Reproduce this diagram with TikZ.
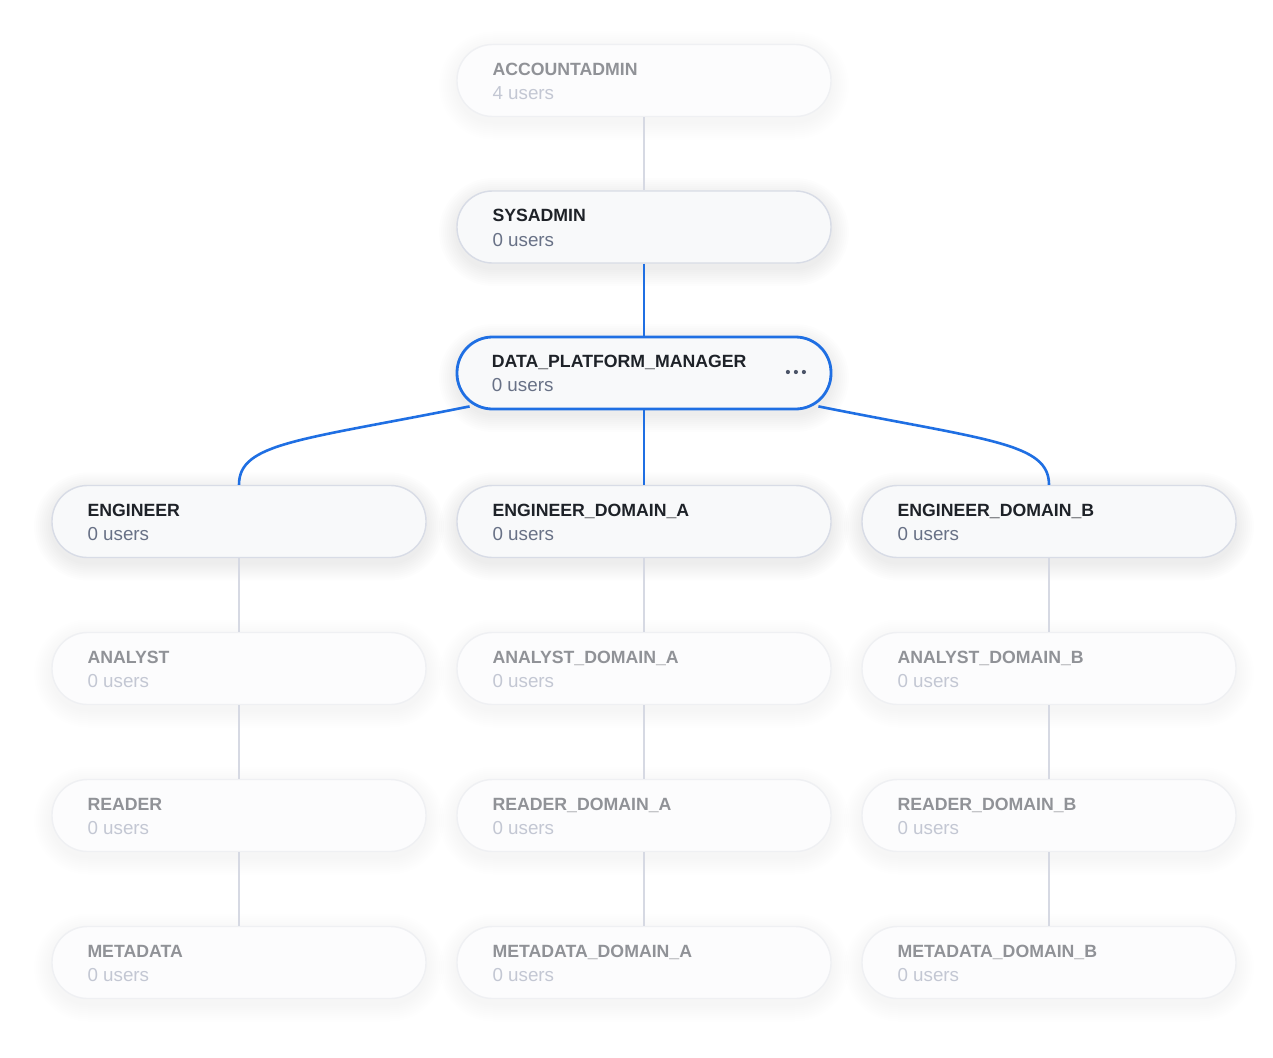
\documentclass[tikz,border=0pt]{standalone}
\usepackage{fontspec}
\setmainfont{Liberation Sans}
\usetikzlibrary{calc}
\definecolor{actborder}{HTML}{D8DCE6}
\definecolor{actfill}{HTML}{F8F9FA}
\definecolor{fadeborder}{HTML}{EFF0F3}
\definecolor{fadefill}{HTML}{FCFCFD}
\definecolor{selblue}{HTML}{1F6FE3}
\definecolor{actname}{HTML}{1E2228}
\definecolor{actusers}{HTML}{687186}
\definecolor{fadename}{HTML}{909297}
\definecolor{fadeusers}{HTML}{C3C7D3}
\definecolor{linegray}{HTML}{D6D9E3}
\definecolor{dotcol}{HTML}{4B5468}
\definecolor{shadowcol}{HTML}{2A3550}
\tikzset{
  rolebox/.style={draw, rounded corners=35.5pt, minimum width=374pt, minimum height=72pt, inner sep=0pt, line width=1.4pt},
  actbox/.style={rolebox, draw=actborder, fill=actfill},
  fadebox/.style={rolebox, draw=fadeborder, fill=fadefill},
  selbox/.style={rolebox, draw=selblue, fill=actfill, line width=2.8pt},
  actnamefont/.style={font=\fontsize{17.7}{19}\selectfont\bfseries, text=actname},
  actusersfont/.style={font=\fontsize{18.8}{20}\selectfont, text=actusers},
  fadenamefont/.style={font=\fontsize{17.7}{19}\selectfont\bfseries, text=fadename},
  fadeusersfont/.style={font=\fontsize{18.8}{20}\selectfont, text=fadeusers},
  grayline/.style={draw=linegray, line width=2.4pt},
  blueline/.style={draw=selblue, line width=2.6pt},
}
% #1 name, #2 x, #3 y, #4 box style, #5 text kind (act/fade), #6 title, #7 users, #8 shadow opacity
\newcommand{\rolenode}[8]{%
  \foreach \s in {2,4,...,18}{%
    \fill[shadowcol, opacity=#8, rounded corners=36pt+\s pt]
      (#2-187-\s, #3-36-\s+5) rectangle (#2+187+\s, #3+36+\s+5);
  }
  \node[#4] (#1) at (#2,#3) {};
  \node[anchor=base west, inner sep=0pt, #5namefont] (#1-name) at ($(#1.north west)+(36,31.5)$) {#6};
  \node[anchor=base west, inner sep=0pt, #5usersfont] (#1-users) at ($(#1.north west)+(36,56)$) {#7};
}
\begin{document}
\begin{tikzpicture}[x=1pt, y=-1pt]
\useasboundingbox (0,0) rectangle (1273,1057);
\fill[white] (0,0) rectangle (1273,1057);

\rolenode{acc}{644}{80.5}{fadebox}{fade}{ACCOUNTADMIN}{4 users}{0.0035}
\rolenode{sys}{644}{227}{actbox}{act}{SYSADMIN}{0 users}{0.008}
\rolenode{dpm}{644}{373}{selbox}{act}{DATA\_PLATFORM\_MANAGER}{0 users}{0.008}

\rolenode{eng}{239}{521.5}{actbox}{act}{ENGINEER}{0 users}{0.008}
\rolenode{engA}{644}{521.5}{actbox}{act}{ENGINEER\_DOMAIN\_A}{0 users}{0.008}
\rolenode{engB}{1049}{521.5}{actbox}{act}{ENGINEER\_DOMAIN\_B}{0 users}{0.008}

\rolenode{ana}{239}{668.5}{fadebox}{fade}{ANALYST}{0 users}{0.0035}
\rolenode{anaA}{644}{668.5}{fadebox}{fade}{ANALYST\_DOMAIN\_A}{0 users}{0.0035}
\rolenode{anaB}{1049}{668.5}{fadebox}{fade}{ANALYST\_DOMAIN\_B}{0 users}{0.0035}

\rolenode{rea}{239}{815.5}{fadebox}{fade}{READER}{0 users}{0.0035}
\rolenode{reaA}{644}{815.5}{fadebox}{fade}{READER\_DOMAIN\_A}{0 users}{0.0035}
\rolenode{reaB}{1049}{815.5}{fadebox}{fade}{READER\_DOMAIN\_B}{0 users}{0.0035}

\rolenode{met}{239}{962.5}{fadebox}{fade}{METADATA}{0 users}{0.0035}
\rolenode{metA}{644}{962.5}{fadebox}{fade}{METADATA\_DOMAIN\_A}{0 users}{0.0035}
\rolenode{metB}{1049}{962.5}{fadebox}{fade}{METADATA\_DOMAIN\_B}{0 users}{0.0035}

% connectors
\draw[grayline] (acc) -- (sys);
\draw[blueline] (sys) -- (dpm);
\draw[blueline] (dpm) -- (engA);
\draw[blueline] ($(dpm.south west)+(14,-4)$) .. controls +(-170,34) and +(0,-42) .. (eng.north);
\draw[blueline] ($(dpm.south east)+(-14,-4)$) .. controls +(170,34) and +(0,-42) .. (engB.north);

\draw[grayline] (eng) -- (ana);
\draw[grayline] (ana) -- (rea);
\draw[grayline] (rea) -- (met);
\draw[grayline] (engA) -- (anaA);
\draw[grayline] (anaA) -- (reaA);
\draw[grayline] (reaA) -- (metA);
\draw[grayline] (engB) -- (anaB);
\draw[grayline] (anaB) -- (reaB);
\draw[grayline] (reaB) -- (metB);

% menu dots
\foreach \dx in {-44.5,-36.5,-28.5}
  \fill[dotcol] ($(dpm.east)+(\dx,-1)$) circle (2.1);
\end{tikzpicture}
\end{document}
